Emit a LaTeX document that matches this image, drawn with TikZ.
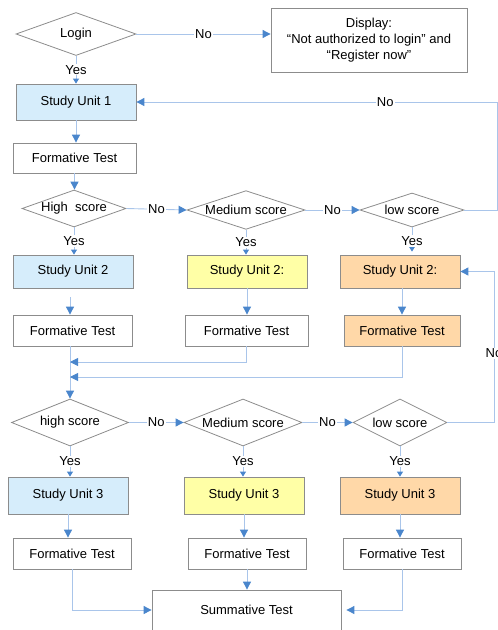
\documentclass[tikz,border=0pt]{standalone}
\usepackage{fontspec}
\setmainfont{Liberation Sans}
\usetikzlibrary{shapes.geometric,arrows.meta}
\definecolor{bordc}{HTML}{8C8C8C}
\definecolor{linec}{HTML}{A9C5EA}
\definecolor{arrc}{HTML}{4A86CC}
\definecolor{bluef}{HTML}{D6EDFB}
\definecolor{yellf}{HTML}{FFFFA6}
\definecolor{orf}{HTML}{FFD8A8}
\tikzset{
  box/.style={draw=bordc, line width=0.8pt, rectangle, inner sep=0pt, align=center, font=\fontsize{13}{16}\selectfont},
  dia/.style={draw=bordc, line width=0.8pt, diamond, aspect=2.8, inner sep=0pt, font=\fontsize{13}{16}\selectfont},
  conn/.style={draw=linec, line width=0.9pt, -{Triangle[color=arrc,length=8pt,width=8pt]}},
  yconn/.style={draw=linec, line width=0.9pt, -{Triangle[color=arrc,length=5pt,width=6pt]}},
  lbl/.style={fill=white, inner sep=1pt, font=\fontsize{13}{16}\selectfont, text=black}
}
\begin{document}
\begin{tikzpicture}[x=1pt,y=-1pt]
\useasboundingbox (0,0) rectangle (498,630);
\clip (0,0) rectangle (498,630);
% row 0
\node[dia, minimum width=120pt, minimum height=43pt] (login) at (76,34) {Login};
\node[box, minimum width=196pt, minimum height=64pt] (disp) at (369,40) {Display:\\“Not authorized to login” and\\“Register now”};
\node[box, fill=bluef, minimum width=120pt, minimum height=36pt] (su1) at (76,102) {Study Unit 1};
\node[box, minimum width=123pt, minimum height=30pt] (ft1) at (74.5,158) {Formative Test};
% row 1 diamonds
\node[dia, minimum width=104pt, minimum height=37pt] (d1a) at (74,208.5) {High~ score};
\node[dia, minimum width=118pt, minimum height=34pt] (d1b) at (246,210) {Medium score};
\node[dia, minimum width=104pt, minimum height=34pt] (d1c) at (412,210) {low score};
% row 2
\node[box, fill=bluef, minimum width=120pt, minimum height=33pt] (su2a) at (73,271.5) {Study Unit 2};
\node[box, fill=yellf, minimum width=120pt, minimum height=33pt] (su2b) at (247,271.5) {Study Unit 2:};
\node[box, fill=orf, minimum width=120pt, minimum height=33pt] (su2c) at (400,271.5) {Study Unit 2:};
\node[box, minimum width=119pt, minimum height=31pt] (ft2a) at (72.5,330.5) {Formative Test};
\node[box, minimum width=123pt, minimum height=31pt] (ft2b) at (246.5,330.5) {Formative Test};
\node[box, fill=orf, minimum width=116pt, minimum height=31pt] (ft2c) at (402,330.5) {Formative Test};
% row 3 diamonds
\node[dia, minimum width=117pt, minimum height=47pt] (d2a) at (70,422.5) {high score};
\node[dia, minimum width=118pt, minimum height=47pt] (d2b) at (243,422.5) {Medium score};
\node[dia, minimum width=94pt, minimum height=47pt] (d2c) at (400,422.5) {low score};
% row 4
\node[box, fill=bluef, minimum width=120pt, minimum height=37pt] (su3a) at (68,495.5) {Study Unit 3};
\node[box, fill=yellf, minimum width=120pt, minimum height=37pt] (su3b) at (244,495.5) {Study Unit 3};
\node[box, fill=orf, minimum width=120pt, minimum height=37pt] (su3c) at (400,495.5) {Study Unit 3};
\node[box, minimum width=118pt, minimum height=31pt] (ft3a) at (72,553.5) {Formative Test};
\node[box, minimum width=118pt, minimum height=31pt] (ft3b) at (247,553.5) {Formative Test};
\node[box, minimum width=118pt, minimum height=31pt] (ft3c) at (402,553.5) {Formative Test};
\node[box, minimum width=189pt, minimum height=80pt] (sum) at (246.5,630) {};
\node[font=\fontsize{13}{16}\selectfont, inner sep=0pt] (sumlbl) at (246.5,610) {Summative Test};
% coordinates
\coordinate (r1a) at (497,210);
\coordinate (r1b) at (497,102);
\coordinate (m1) at (70,362);
\coordinate (m2) at (70,377);
\coordinate (r2a) at (494,422.5);
\coordinate (r2b) at (494,271.5);
% connectors
\draw[conn] (login.east) -- node[lbl]{No} (login.east -| disp.west);
\draw[yconn] (login.south) -- node[lbl]{Yes} (su1.north);
\draw[conn] (su1.south) -- (su1.south |- ft1.north);
\draw[conn] (ft1.south) -- (ft1.south |- d1a.north);
\draw[conn] (d1a.east) -- node[lbl]{No} (d1b.west);
\draw[conn] (d1b.east) -- node[lbl]{No} (d1c.west);
\draw[conn] (d1c.east) -- (r1a) -- (r1b) -- node[lbl, pos=0.31]{No} (su1.east);
\draw[yconn] (d1a.south) -- node[lbl]{Yes} (d1a.south |- su2a.north);
\draw[yconn] (d1b.south) -- node[lbl]{Yes} (d1b.south |- su2b.north);
\draw[yconn, shorten >=3pt] (d1c.south) -- node[lbl]{Yes} (d1c.south |- su2c.north);
\draw[conn] ([yshift=-9pt]su2a.south -| d2a.north) -- (d2a.north |- ft2a.north);
\draw[conn] (su2b.south) -- (su2b.south |- ft2b.north);
\draw[conn] (ft2c.north |- su2c.south) -- (ft2c.north);
\draw[conn] (d2a.north |- ft2a.south) -- (d2a.north);
\draw[conn] (ft2b.south) |- (m1);
\draw[conn] (ft2c.south) |- (m2);
\draw[conn] (d2a.east) -- node[lbl]{No} (d2b.west);
\draw[conn] (d2b.east) -- node[lbl]{No} (d2c.west);
\draw[conn] (d2c.east) -- (r2a) -- node[lbl, pos=0.46]{No} (r2b) -- (su2c.east);
\draw[yconn] (d2a.south) -- node[lbl]{Yes} (d2a.south |- su3a.north);
\draw[yconn] (d2b.south) -- node[lbl]{Yes} (d2b.south |- su3b.north);
\draw[yconn] (d2c.south) -- node[lbl]{Yes} (d2c.south |- su3c.north);
\draw[conn] (su3a.south) -- (su3a.south |- ft3a.north);
\draw[conn] (su3b.south) -- (su3b.south |- ft3b.north);
\draw[conn] (su3c.south) -- (su3c.south |- ft3c.north);
\draw[conn] (ft3a.south) |- (sum.west |- sumlbl);
\draw[conn] (ft3b.south) -- (ft3b.south |- sum.north);
\draw[conn, shorten >=5pt] (ft3c.south) |- (sum.east |- sumlbl);
\end{tikzpicture}
\end{document}
